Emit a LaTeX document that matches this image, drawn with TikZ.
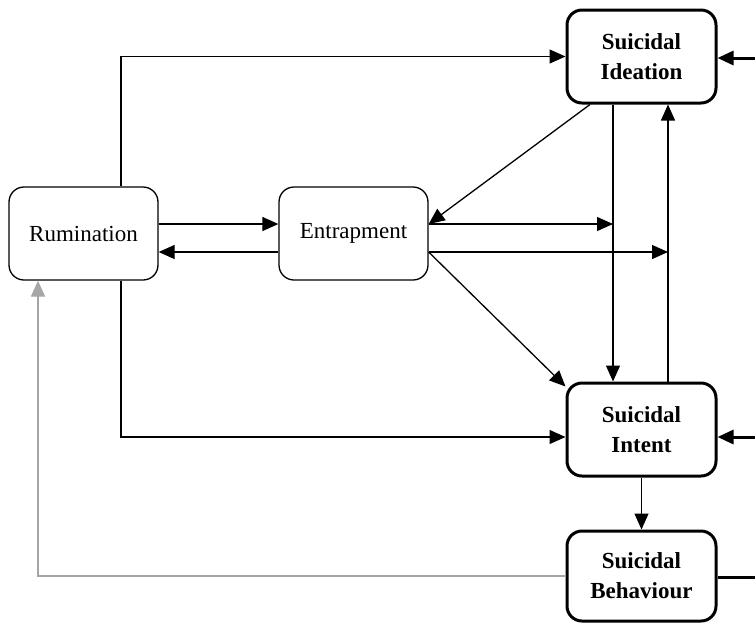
\documentclass[tikz,border=0pt]{standalone}
\usepackage{fontspec}
\setmainfont{Liberation Serif}
\usetikzlibrary{positioning}
\usetikzlibrary{arrows.meta}

\begin{document}
\begin{tikzpicture}[x=0.5pt, y=-0.5pt,
  box/.style={draw, line width=0.65pt, rounded corners=7.5pt, minimum width=74.5pt, minimum height=46.5pt, inner sep=0pt, align=center, font=\fontsize{11.5}{15}\selectfont},
  riskbox/.style={box, line width=1.5pt, font=\fontsize{11.5}{15}\selectfont\bfseries},
  arr/.style={line width=0.65pt, -{Triangle[length=8pt,width=7pt]}},
  thickarr/.style={line width=1.5pt, -{Triangle[length=8pt,width=7pt]}},
  grayarr/.style={arr, gray!70}]
\useasboundingbox (0,0) rectangle (755,623);
\node[box] (rum) at (83.5,233.5) {Rumination};
\node[box] (entr) at (353.5,233.5) {Entrapment};
\node[riskbox] (ideat) at (641.5,56.5) {Suicidal\\Ideation};
\node[riskbox] (intent) at (641.5,429.5) {Suicidal\\Intent};
\node[riskbox, minimum height=45pt] (behav) at (641.5,576) {Suicidal\\Behaviour};
\coordinate (rx) at (121,0);
\coordinate (gx) at (38,0);
\coordinate (dg) at (590,0);
\coordinate (vL) at (613,0);
\coordinate (vR) at (668,0);
\coordinate (hi) at (0,224);
\coordinate (lo) at (0,252);
\coordinate (inD) at (755,58);
\coordinate (inI) at (755,437);
\coordinate (outB) at (755,577);
\draw[arr] (rum.north -| rx) |- (ideat.west);
\draw[arr] (rum.south -| rx) |- (inI -| intent.west);
\draw[arr] (rum.east |- hi) -- (entr.west |- hi);
\draw[arr] (entr.west |- lo) -- (rum.east |- lo);
\draw[arr] (entr.east |- hi) -- (vL |- hi);
\draw[arr] (entr.east |- lo) -- (vR |- lo);
\draw[arr] (ideat.south -| dg) -- (entr.east |- hi);
\draw[arr] (entr.east |- lo) -- ([yshift=-2.5pt]intent.north west);
\draw[arr] (ideat.south -| vL) -- (intent.north -| vL);
\draw[arr] (intent.north -| vR) -- (ideat.south -| vR);
\draw[arr] (intent.south) -- (behav.north);
\draw[grayarr] (behav.west) -| (gx |- rum.south);
\draw[thickarr] (inD) -- (inD -| ideat.east);
\draw[thickarr] (inI) -- (inI -| intent.east);
\draw[line width=1.5pt] (behav.east |- outB) -- (outB);
\end{tikzpicture}
\end{document}
